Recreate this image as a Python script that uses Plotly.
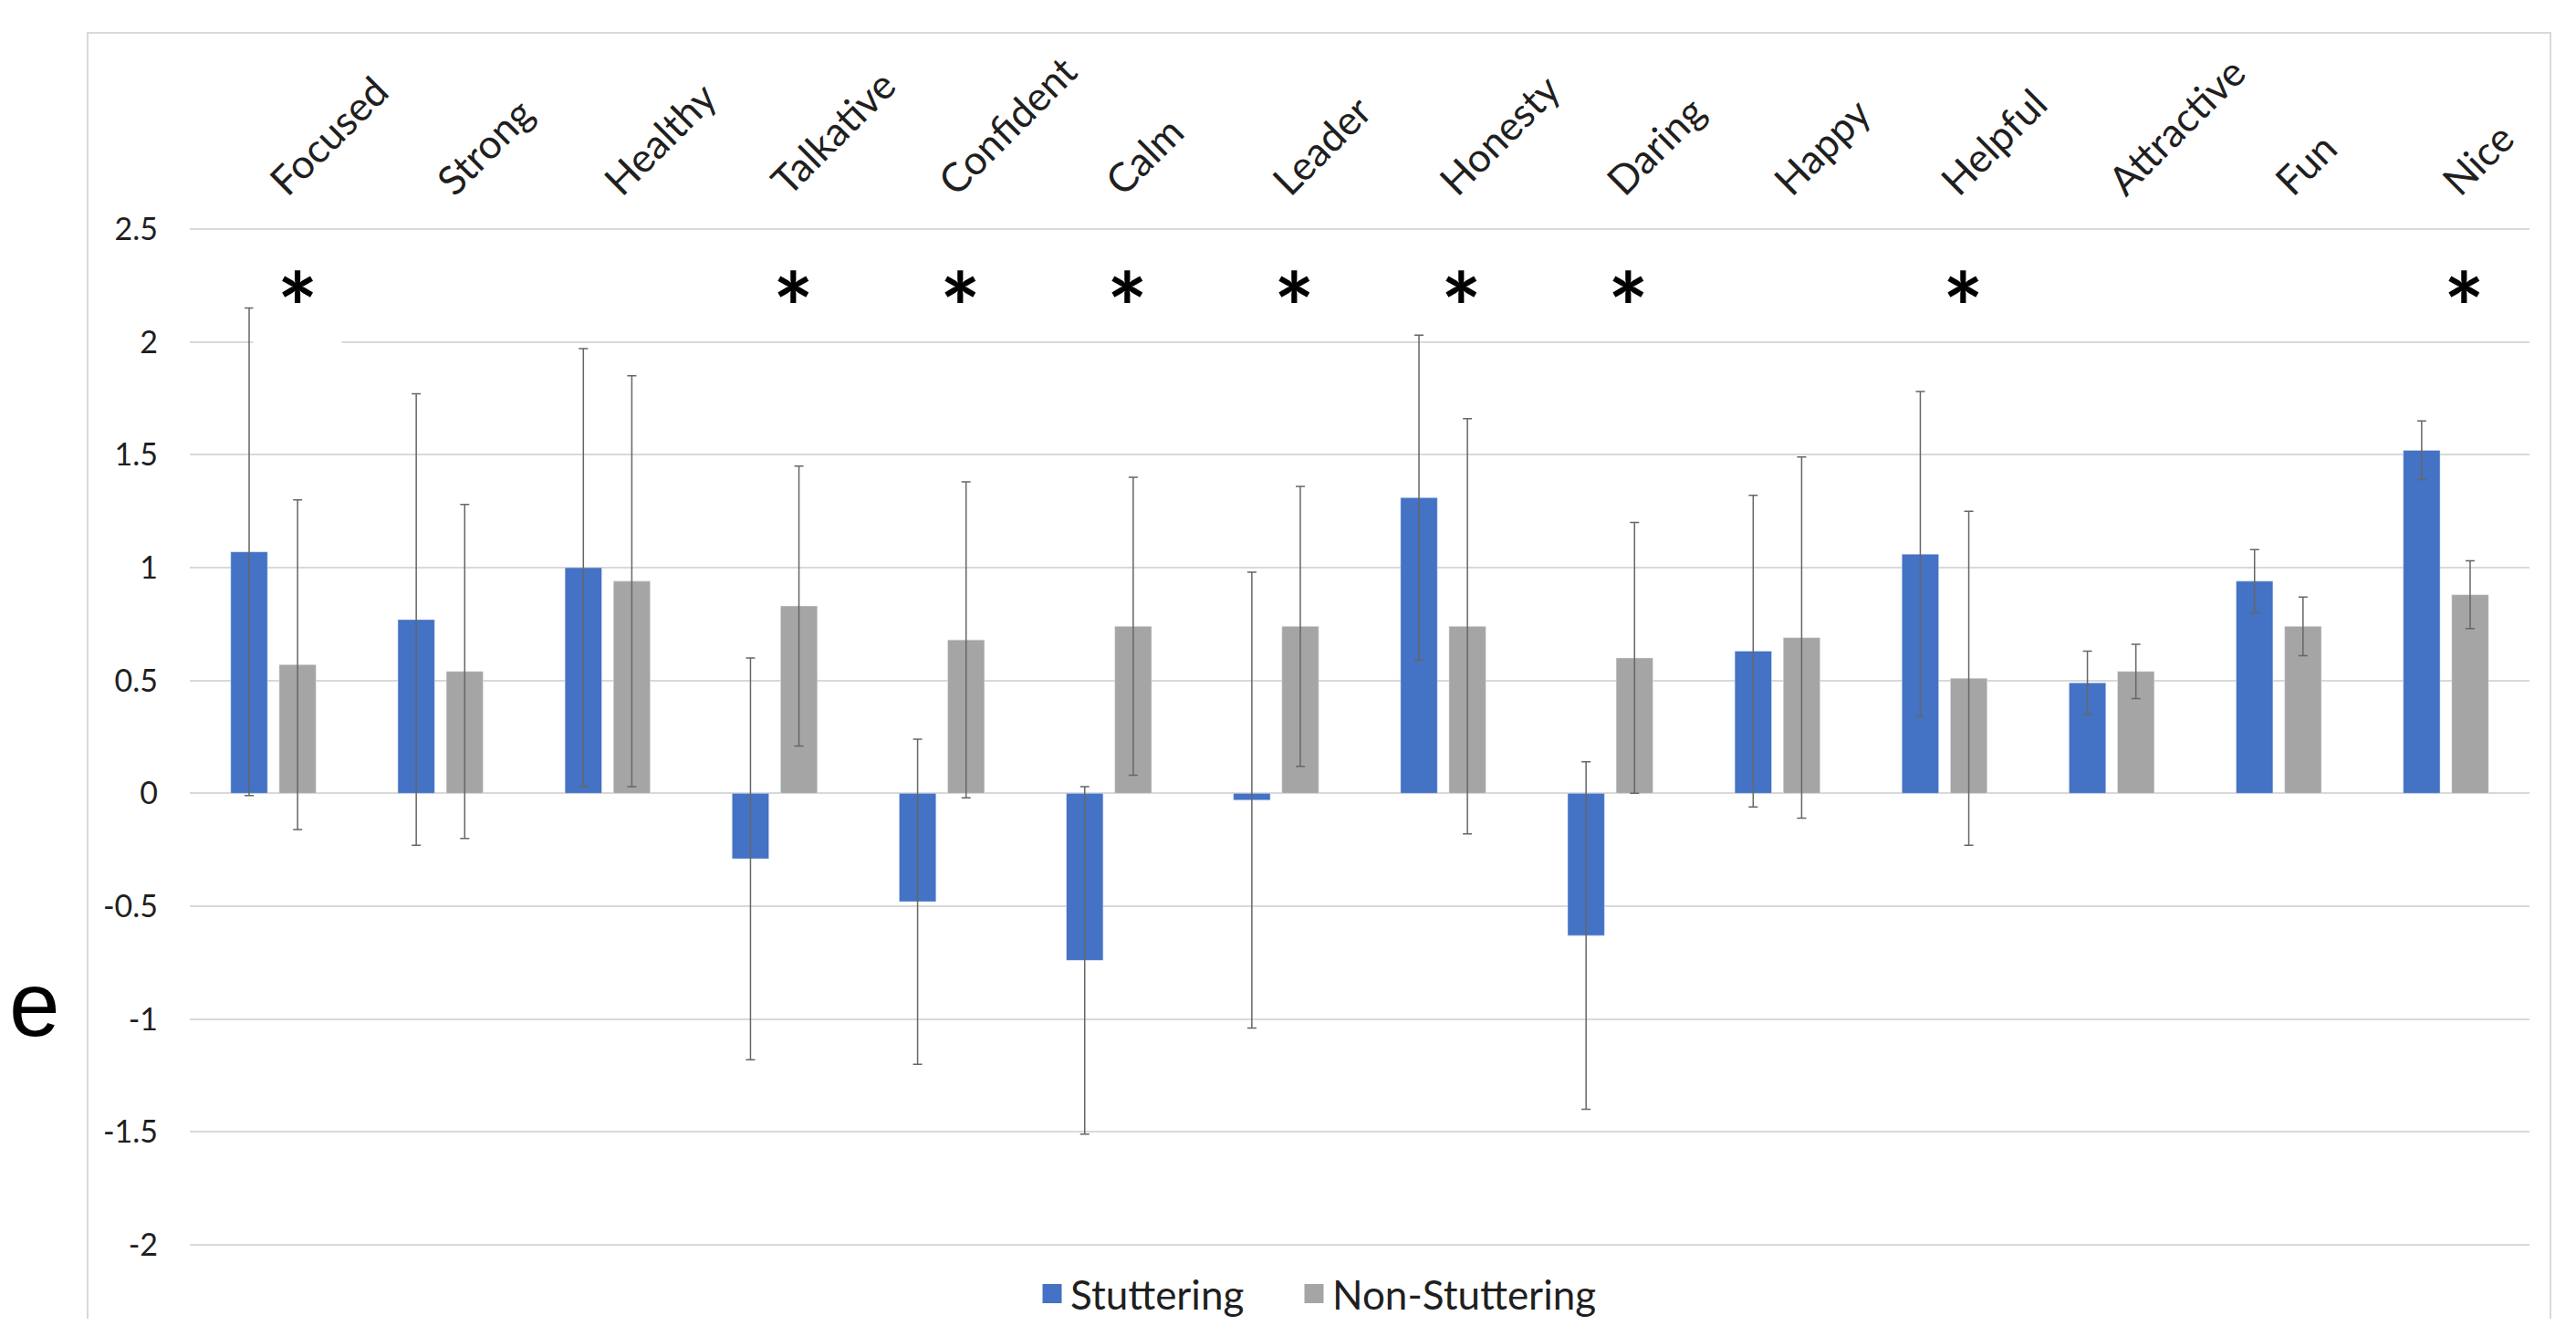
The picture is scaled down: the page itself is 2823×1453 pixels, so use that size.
import plotly.graph_objects as go

# ---------------- data ----------------
categories = ["Focused", "Strong", "Healthy", "Talkative", "Confident", "Calm", "Leader",
              "Honesty", "Daring", "Happy", "Helpful", "Attractive", "Fun", "Nice"]
stuttering = [1.07, 0.77, 1.00, -0.29, -0.48, -0.74, -0.03, 1.31, -0.63, 0.63, 1.06, 0.49, 0.94, 1.52]
stuttering_sd = [1.08, 1.00, 0.97, 0.89, 0.72, 0.77, 1.01, 0.72, 0.77, 0.69, 0.72, 0.14, 0.14, 0.13]
non_stuttering = [0.57, 0.54, 0.94, 0.83, 0.68, 0.74, 0.74, 0.74, 0.60, 0.69, 0.51, 0.54, 0.74, 0.88]
non_stuttering_sd = [0.73, 0.74, 0.91, 0.62, 0.70, 0.66, 0.62, 0.92, 0.60, 0.80, 0.74, 0.12, 0.13, 0.15]
significant = ["Focused", "Talkative", "Confident", "Calm", "Leader", "Honesty", "Daring", "Helpful", "Nice"]
y_tick_values = [2.5, 2, 1.5, 1, 0.5, 0, -0.5, -1, -1.5, -2]
y_tick_labels = ["2.5", "2", "1.5", "1", "0.5", "0", "-0.5", "-1", "-1.5", "-2"]
series_names = ["Stuttering", "Non-Stuttering"]

# ---------------- styling / layout geometry ----------------
BLUE = "#4472C4"
GREY = "#A5A5A5"
TXT = "#1f1f1f"
OFF = 8                      # page body margin
W, H = 2823 - 2 * OFF, 1453 - 2 * OFF
L, R, T, B = 208, 2772, 235, 1445   # plot area in page pixels


def px(X):
    return (X - L) / (R - L)


def py(Y):
    return (B - Y) / (B - T)


y_range = [-2.3275, 2.5647]

fig = go.Figure()
err_style = dict(type="data", color="#666666", thickness=1.5, width=5, visible=True)
fig.add_trace(go.Bar(x=categories, y=stuttering, name=series_names[0], marker_color=BLUE,
                     error_y=dict(array=stuttering_sd, **err_style), showlegend=False))
fig.add_trace(go.Bar(x=categories, y=non_stuttering, name=series_names[1], marker_color=GREY,
                     error_y=dict(array=non_stuttering_sd, **err_style), showlegend=False))
# legend entries (larger square swatches), one legend box per series
for nm, col, lg in zip(series_names, [BLUE, GREY], ["legend", "legend2"]):
    fig.add_trace(go.Scatter(x=[None], y=[None], mode="markers", name=nm, legend=lg,
                             marker=dict(symbol="square", size=16, color=col,
                                         line=dict(color=col, width=5))))

annotations = []
for c in significant:
    a = dict(x=c, y=2.423, xref="x", yref="y", text="<b>*</b>", showarrow=False,
             xshift=20, yanchor="top", valign="top", height=135,
             font=dict(family="Lato", size=105, color="black"))
    if c == "Focused":
        a.update(bgcolor="white", width=94, xshift=26)
    annotations.append(a)

annotations.append(dict(x=px(OFF), y=py(1100), xref="paper", yref="paper", text="e",
                        showarrow=False, xanchor="left", yanchor="middle",
                        font=dict(family="Liberation Sans", size=100, color="black")))

legend_style = dict(orientation="h", xanchor="left", y=py(1418), yanchor="middle",
                    font=dict(family="Lato", size=44, color=TXT), bgcolor="rgba(0,0,0,0)",
                    itemwidth=30)

fig.update_layout(
    width=W, height=H,
    margin=dict(l=L - OFF, r=W - (R - OFF), t=T - OFF, b=H - (B - OFF), pad=0, autoexpand=False),
    paper_bgcolor="white", plot_bgcolor="white",
    barmode="group", bargap=0.42, bargroupgap=0.24,
    font=dict(family="Lato", color=TXT),
    xaxis=dict(type="category", side="top", tickangle=-45, showgrid=False, showline=False,
               automargin=False, ticks="", ticklabelstandoff=2,
               tickfont=dict(family="Lato", size=44, color=TXT)),
    yaxis=dict(range=y_range, tickvals=y_tick_values, ticktext=y_tick_labels, automargin=False,
               showgrid=True, gridcolor="#d9d9d9", gridwidth=1.5, zeroline=False,
               showline=False, ticks="", ticklabelstandoff=34,
               tickfont=dict(family="Lato", size=34, color=TXT)),
    legend=dict(x=px(1133), **legend_style),
    legend2=dict(x=px(1420), **legend_style),
    shapes=[dict(type="rect", xref="paper", yref="paper", x0=px(96), x1=px(2795),
                 y0=py(1520), y1=py(36), line=dict(color="#d9d9d9", width=2),
                 fillcolor="rgba(0,0,0,0)", layer="below")],
    annotations=annotations,
)

fig.write_html("out.html")
